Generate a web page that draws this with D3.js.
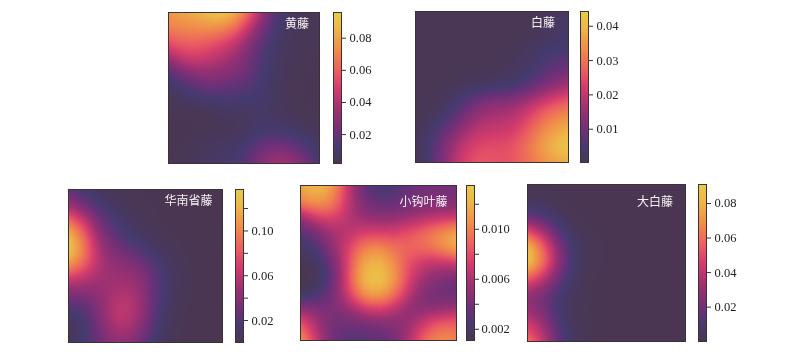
<!DOCTYPE html>
<html>
<head>
<meta charset="UTF-8">
<script src="https://d3js.org/d3.v7.min.js"></script>
<style>
  html, body { margin: 0; padding: 0; background: #fff; }
  #wrap { position: relative; width: 800px; height: 352px; overflow: hidden; }
  canvas, svg { position: absolute; left: 0; top: 0; }
  .tick text { font-family: "Liberation Serif", serif; font-size: 12.5px; fill: #222; }
  .tick line { stroke: #333; }
  .name { font-family: "Noto Sans CJK SC", sans-serif; font-size: 12px; fill: #f8f4f4; }
</style>
</head>
<body>
<div id="wrap">
  <canvas id="heat" width="800" height="352"></canvas>
  <svg id="chart" width="800" height="352"></svg>
</div>
<script>
// density, rows top to bottom, 11 columns left to right
const huangteng = [
  [.076, .080, .084, .092, .090, .072, .042, .016, .008, .005, .004],
  [.070, .072, .074, .074, .070, .054, .030, .012, .006, .004, .004],
  [.056, .060, .060, .056, .050, .036, .020, .010, .005, .004, .004],
  [.036, .048, .050, .044, .038, .028, .016, .008, .005, .004, .003],
  [.014, .026, .032, .032, .030, .024, .014, .007, .004, .003, .003],
  [.006, .012, .018, .022, .018, .016, .012, .007, .004, .003, .003],
  [.004, .005, .006, .008, .010, .010, .010, .007, .004, .003, .003],
  [.003, .003, .003, .004, .005, .006, .008, .007, .005, .004, .003],
  [.003, .003, .003, .004, .004, .006, .010, .012, .010, .007, .005],
  [.003, .003, .005, .007, .008, .012, .020, .026, .024, .016, .008],
  [.003, .004, .006, .008, .010, .014, .026, .036, .036, .026, .012]
];
const baiteng = [
  [.001, .001, .001, .001, .001, .001, .001, .001, .001, .002, .003],
  [.001, .001, .001, .001, .001, .001, .001, .001, .001, .002, .004],
  [.001, .001, .001, .001, .001, .001, .001, .001, .002, .003, .004],
  [.001, .001, .001, .001, .001, .001, .001, .002, .004, .006, .006],
  [.001, .001, .001, .001, .001, .001, .002, .003, .005, .008, .010],
  [.001, .001, .001, .002, .002, .003, .004, .005, .010, .014, .017],
  [.001, .001, .002, .005, .010, .013, .013, .016, .020, .024, .027],
  [.001, .002, .004, .010, .015, .018, .018, .021, .027, .032, .034],
  [.001, .004, .009, .015, .020, .021, .021, .025, .031, .036, .039],
  [.001, .005, .013, .020, .024, .025, .025, .028, .034, .040, .044],
  [.001, .005, .014, .022, .026, .026, .025, .028, .032, .036, .038]
];
const huananshengteng = [
  [.025, .012, .006, .003, .002, .002, .002, .001, .001, .001, .001],
  [.045, .030, .014, .006, .003, .002, .002, .001, .001, .001, .001],
  [.090, .065, .030, .014, .006, .003, .002, .001, .001, .001, .001],
  [.125, .090, .042, .024, .012, .006, .003, .002, .001, .001, .001],
  [.137, .100, .052, .036, .024, .016, .006, .003, .001, .001, .001],
  [.105, .085, .055, .045, .040, .030, .014, .005, .002, .001, .001],
  [.060, .055, .050, .050, .050, .040, .016, .006, .002, .001, .001],
  [.035, .035, .042, .056, .058, .042, .016, .005, .002, .001, .001],
  [.012, .016, .038, .062, .064, .042, .012, .004, .001, .001, .001],
  [.006, .012, .034, .056, .056, .034, .010, .003, .001, .001, .001],
  [.004, .012, .028, .044, .044, .024, .006, .002, .001, .001, .001]
];
const xiaogouyeteng = [
  [.0115, .0125, .0115, .0070, .0035, .0022, .0025, .0035, .0040, .0040, .0040],
  [.0105, .0115, .0105, .0070, .0042, .0030, .0032, .0038, .0042, .0042, .0040],
  [.0055, .0075, .0080, .0065, .0050, .0048, .0048, .0052, .0058, .0062, .0065],
  [.0028, .0040, .0058, .0062, .0072, .0072, .0072, .0082, .0092, .0105, .0115],
  [.0020, .0025, .0050, .0072, .0100, .0105, .0095, .0090, .0095, .0105, .0122],
  [.0012, .0015, .0035, .0075, .0115, .0125, .0105, .0080, .0068, .0065, .0070],
  [.0010, .0012, .0030, .0075, .0125, .0135, .0115, .0075, .0055, .0045, .0040],
  [.0015, .0020, .0038, .0070, .0110, .0120, .0100, .0065, .0042, .0036, .0033],
  [.0050, .0045, .0042, .0050, .0068, .0076, .0066, .0048, .0045, .0050, .0055],
  [.0085, .0060, .0038, .0036, .0038, .0042, .0045, .0052, .0075, .0090, .0090],
  [.0105, .0070, .0036, .0030, .0030, .0032, .0038, .0060, .0090, .0105, .0100]
];
const dabaiteng = [
  [.001, .001, .001, .001, .001, .001, .001, .001, .001, .001, .001],
  [.002, .002, .001, .001, .001, .001, .001, .001, .001, .001, .001],
  [.015, .010, .003, .001, .001, .001, .001, .001, .001, .001, .001],
  [.050, .035, .012, .003, .001, .001, .001, .001, .001, .001, .001],
  [.085, .060, .024, .005, .002, .001, .001, .001, .001, .001, .001],
  [.090, .064, .028, .006, .002, .001, .001, .001, .001, .001, .001],
  [.055, .042, .018, .004, .001, .001, .001, .001, .001, .001, .001],
  [.028, .022, .008, .003, .001, .001, .001, .001, .001, .001, .001],
  [.030, .022, .007, .002, .001, .001, .001, .001, .001, .001, .001],
  [.045, .034, .010, .003, .001, .001, .001, .001, .001, .001, .001],
  [.060, .042, .014, .004, .001, .001, .001, .001, .001, .001, .001]
];

const speciesNames = ["黄藤", "白藤", "华南省藤", "小钩叶藤", "大白藤"];
const grids = [huangteng, baiteng, huananshengteng, xiaogouyeteng, dabaiteng];
const valueRanges = [[.002, .096], [.0003, .0443], [.0004, .137], [.0011, .0135], [.0001, .091]];
const tickValues = [
  [.02, .04, .06, .08],
  [.01, .02, .03, .04],
  [.02, .04, .06, .08, .10, .12],
  [.002, .004, .006, .008, .010, .012],
  [.02, .04, .06, .08]
];
const tickLabels = [
  ["0.02", "0.04", "0.06", "0.08"],
  ["0.01", "0.02", "0.03", "0.04"],
  ["0.02", "", "0.06", "", "0.10", ""],
  ["0.002", "", "0.006", "", "0.010", ""],
  ["0.02", "0.04", "0.06", "0.08"]
];

// pixel boxes of each map and where its name sits
const boxes = [
  { x0: 168, x1: 319, y0: 12, y1: 163, bar: 333, nameX: 297, nameY: 28 },
  { x0: 415, x1: 568, y0: 11, y1: 162, bar: 580, nameX: 543, nameY: 27 },
  { x0: 68, x1: 222, y0: 189, y1: 342, bar: 235, nameX: 188.5, nameY: 205 },
  { x0: 300, x1: 456, y0: 185, y1: 340, bar: 466, nameX: 423.5, nameY: 206 },
  { x0: 527, x1: 685, y0: 184, y1: 341, bar: 698, nameX: 655, nameY: 206 }
];
const barWidth = 8;

const colorStops = [0, .1, .2, .35, .5, .6, .75, .9, 1];
const colorValues = ["#4a3650", "#453a70", "#6a3078", "#9a3072", "#d43c6c", "#ea5a62", "#f08c4a", "#eeb848", "#e6cc48"];
const colorAt = d3.scaleLinear().domain(colorStops).range(colorValues).clamp(true);

const svg = d3.select("#chart");
const ctx = document.getElementById("heat").getContext("2d");
const defs = svg.append("defs");

const grad = defs.append("linearGradient")
  .attr("id", "barFill").attr("x1", 0).attr("y1", 1).attr("x2", 0).attr("y2", 0);
colorStops.forEach((s, i) => grad.append("stop").attr("offset", s).attr("stop-color", colorValues[i]));

grids.forEach((grid, i) => {
  const b = boxes[i];
  const norm = d3.scaleLinear().domain(valueRanges[i]).range([0, 1]);
  const w = b.x1 - b.x0, h = b.y1 - b.y0;

  // smooth surface through the read values
  const rowCurves = grid.map(row => d3.interpolateBasis(row));
  const img = ctx.createImageData(w, h);
  for (let px = 0; px < w; px++) {
    const col = rowCurves.map(c => c(px / (w - 1)));
    const colCurve = d3.interpolateBasis(col);
    for (let py = 0; py < h; py++) {
      const c = d3.rgb(colorAt(norm(colCurve(py / (h - 1)))));
      const k = (py * w + px) * 4;
      img.data[k] = c.r; img.data[k + 1] = c.g; img.data[k + 2] = c.b; img.data[k + 3] = 255;
    }
  }
  ctx.putImageData(img, b.x0, b.y0);

  svg.append("rect")
    .attr("x", b.x0 + .5).attr("y", b.y0 + .5).attr("width", w).attr("height", h)
    .attr("fill", "none").attr("stroke", "#3a3236").attr("stroke-width", 1);

  svg.append("rect")
    .attr("x", b.bar + .5).attr("y", b.y0 + .5).attr("width", barWidth).attr("height", h)
    .attr("fill", "url(#barFill)").attr("stroke", "#3a3236").attr("stroke-width", 1);

  const y = d3.scaleLinear().domain(valueRanges[i]).range([b.y1, b.y0]);
  const axis = d3.axisRight(y)
    .tickValues(tickValues[i])
    .tickFormat((d, j) => tickLabels[i][j])
    .tickSize(4).tickPadding(i === 3 ? 2.5 : 3.5);
  const g = svg.append("g")
    .attr("transform", `translate(${b.bar + barWidth + 1},0)`)
    .call(axis);
  g.select(".domain").remove();

  svg.append("text").attr("class", "name")
    .attr("x", b.nameX).attr("y", b.nameY).attr("text-anchor", "middle")
    .text(speciesNames[i]);
});
</script>
</body>
</html>
